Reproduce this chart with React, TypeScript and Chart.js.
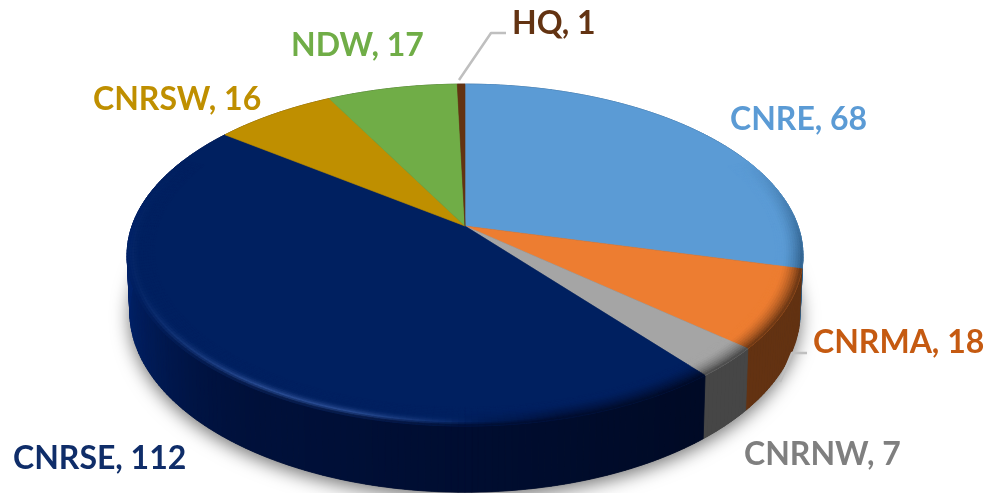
import React, { useEffect, useRef } from "react";
import { Chart, registerables } from "chart.js";

Chart.register(...registerables);

const categories = ["CNRE", "CNRMA", "CNRNW", "CNRSE", "CNRSW", "NDW", "HQ"];
const values = [68, 18, 7, 112, 16, 17, 1];
const faceColors = ["#5b9bd5", "#ed7d31", "#a5a5a5", "#002060", "#bf8f00", "#70ad47", "#633312"];
const wallColors = ["#2f5f8a", "#633212", "#464646", "#00103a", "#6b5000", "#3f6428", "#3a1d0a"];
const labelColors = ["#5b9bd5", "#c55a11", "#7f7f7f", "#0f2d69", "#bf8f00", "#70ad47", "#633312"];

// Label anchors: [left x, baseline y]
const labelAnchors: [number, number][] = [
  [730, 130],
  [813, 353],
  [744, 465],
  [13, 469],
  [93, 110],
  [291, 56],
  [512, 34],
];
const leaders: [number, number][][] = [
  [[459, 80], [491, 33], [506, 33]],
  [[780, 382], [792, 353], [807, 353]],
];

// Perspective projection of the pie disc
const CX = 465, CY = 226, BX = 333, AY = 166, K = 0.17, DEPTH = 55, WARP = 0.033;

function project(theta: number, r: number, depth = 0): [number, number] {
  const th = theta + WARP * Math.sin(theta);
  const u = Math.sin(th) * r;
  const v = -Math.cos(th) * r;
  const d = 1 - K * v;
  const shrink = 1 - 0.008 * (depth / DEPTH);
  return [CX + (BX * u * shrink) / d, CY + (AY * v) / d + depth / d];
}

function hex(c: string): number[] {
  return [1, 3, 5].map((i) => parseInt(c.slice(i, i + 2), 16));
}
function mix(a: string, b: string, t: number): string {
  const A = hex(a), B = hex(b);
  return `#${A.map((x, i) => Math.round(x + (B[i] - x) * t).toString(16).padStart(2, "0")).join("")}`;
}
function clamp(x: number) {
  return Math.max(0, Math.min(1, x));
}
function navyWall(u: number): string {
  // u runs from -1 (left) to +1 (right)
  if (u < -0.5) return mix("#00103a", "#00226a", Math.pow((-u - 0.5) / 0.5, 2));
  return mix("#00103a", "#000a26", clamp((u + 0.5) / 1.1));
}

const pie3d = {
  id: "pie3d",
  beforeDatasetDraw(chart: any) {
    const ctx: CanvasRenderingContext2D = chart.ctx;
    const arcs = chart.getDatasetMeta(0).data;
    const range = (a: any): [number, number] => [a.startAngle + Math.PI / 2, a.endAngle + Math.PI / 2];
    const STEP = Math.PI / 180;

    const tracePart = (a: number, b: number, r: number, depth: number, first: boolean) => {
      const n = Math.max(1, Math.ceil(Math.abs(b - a) / STEP));
      for (let i = 0; i <= n; i++) {
        const p = project(a + ((b - a) * i) / n, r, depth);
        if (first && i === 0) ctx.moveTo(p[0], p[1]);
        else ctx.lineTo(p[0], p[1]);
      }
    };

    // soft shadow under the silhouette
    ctx.save();
    ctx.shadowColor = "rgba(0,0,0,0.55)";
    ctx.shadowBlur = 18;
    ctx.shadowOffsetY = 5;
    ctx.fillStyle = "#333";
    ctx.beginPath();
    tracePart(0, Math.PI * 2, 1, DEPTH, true);
    ctx.closePath();
    ctx.fill();
    ctx.restore();

    // side walls
    arcs.forEach((arc: any, i: number) => {
      const [a, b] = range(arc);
      const n = Math.max(1, Math.ceil((b - a) / STEP));
      for (let s = 0; s < n; s++) {
        const t0 = a + ((b - a) * s) / n;
        const t1 = a + ((b - a) * (s + 1)) / n;
        const col = i === 3 ? navyWall(Math.sin(t0)) : wallColors[i];
        ctx.fillStyle = col;
        ctx.strokeStyle = col;
        ctx.lineWidth = 0.8;
        ctx.beginPath();
        tracePart(t0, t1, 1, 0, true);
        tracePart(t1, t0, 1, DEPTH, false);
        ctx.closePath();
        ctx.fill();
        ctx.stroke();
      }
    });

    // top faces
    arcs.forEach((arc: any, i: number) => {
      const [a, b] = range(arc);
      ctx.fillStyle = faceColors[i];
      ctx.strokeStyle = faceColors[i];
      ctx.lineWidth = 0.6;
      ctx.beginPath();
      ctx.moveTo(CX, CY);
      tracePart(a, b, 1, 0, false);
      ctx.closePath();
      ctx.fill();
      ctx.stroke();
    });

    // soft bevel along the rim: fades from the face colour into the wall colour
    const RINGS = 12, WIDTH = 0.08;
    arcs.forEach((arc: any, i: number) => {
      const [a, b] = range(arc);
      const n = Math.max(1, Math.ceil((b - a) / STEP));
      for (let ring = 0; ring < RINGS; ring++) {
        const r0 = 1 - WIDTH * (1 - ring / RINGS);
        const r1 = 1 - WIDTH * (1 - (ring + 1) / RINGS);
        const t = (ring + 0.5) / RINGS;
        for (let s = 0; s < n; s++) {
          const t0 = a + ((b - a) * s) / n;
          const t1 = a + ((b - a) * (s + 1)) / n;
          const mid = (t0 + t1) / 2;
          const v = -Math.cos(mid);
          const u = Math.sin(mid);
          const f = clamp((v + 0.45) / 0.6);
          if (f <= 0) continue;
          let col: string;
          if (i === 3) {
            const wall = navyWall(u);
            // light rim on the left-hand front, dark fade towards the right
            const glow = clamp((0.05 - u) / 0.35) * (0.12 + 0.88 * clamp((u + 0.95) / 0.4));
            const light = mix("#002060", "#2a4c92", glow * Math.pow(clamp((t - 0.45) / 0.35), 2));
            const dark = clamp((t - 0.8) / 0.2);
            const fadeRight = clamp((u + 0.05) / 0.3);
            const base = mix(light, wall, dark);
            col = mix(base, mix("#002060", wall, Math.pow(clamp((t - 0.2) / 0.8), 1.5)), fadeRight);
            col = mix("#002060", col, f);
          } else {
            const depthFade = Math.pow(clamp((t - 0.25) / 0.75), 1.6);
            col = mix(faceColors[i], wallColors[i], depthFade * f);
          }
          ctx.fillStyle = col;
          ctx.strokeStyle = col;
          ctx.lineWidth = 0.6;
          ctx.beginPath();
          tracePart(t0, t1, r0, 0, true);
          tracePart(t1, t0, r1, 0, false);
          ctx.closePath();
          ctx.fill();
          ctx.stroke();
        }
      }
    });

    return false;
  },
  afterDatasetsDraw(chart: any) {
    const ctx: CanvasRenderingContext2D = chart.ctx;
    ctx.save();
    ctx.strokeStyle = "#bfbfbf";
    ctx.lineWidth = 2.5;
    ctx.lineJoin = "round";
    leaders.forEach((pts) => {
      ctx.beginPath();
      pts.forEach((p, i) => (i ? ctx.lineTo(p[0], p[1]) : ctx.moveTo(p[0], p[1])));
      ctx.stroke();
    });
    ctx.font = 'bold 32px Lato, "Open Sans", sans-serif';
    ctx.textAlign = "left";
    ctx.textBaseline = "alphabetic";
    categories.forEach((c, i) => {
      ctx.fillStyle = labelColors[i];
      ctx.fillText(`${c}, ${values[i]}`, labelAnchors[i][0], labelAnchors[i][1]);
    });
    ctx.restore();
  },
};

export default function App() {
  const ref = useRef<HTMLCanvasElement | null>(null);
  useEffect(() => {
    document.body.style.margin = "0";
    document.body.style.background = "#ffffff";
    const chart = new Chart(ref.current as HTMLCanvasElement, {
      type: "pie",
      data: {
        labels: categories,
        datasets: [{ data: values, backgroundColor: faceColors, borderWidth: 0 }],
      },
      options: {
        responsive: false,
        animation: false,
        devicePixelRatio: 1,
        plugins: { legend: { display: false }, tooltip: { enabled: false } },
      },
      plugins: [pie3d],
    } as any);
    return () => chart.destroy();
  }, []);
  return <canvas ref={ref} width={989} height={493} style={{ display: "block" }} />;
}
